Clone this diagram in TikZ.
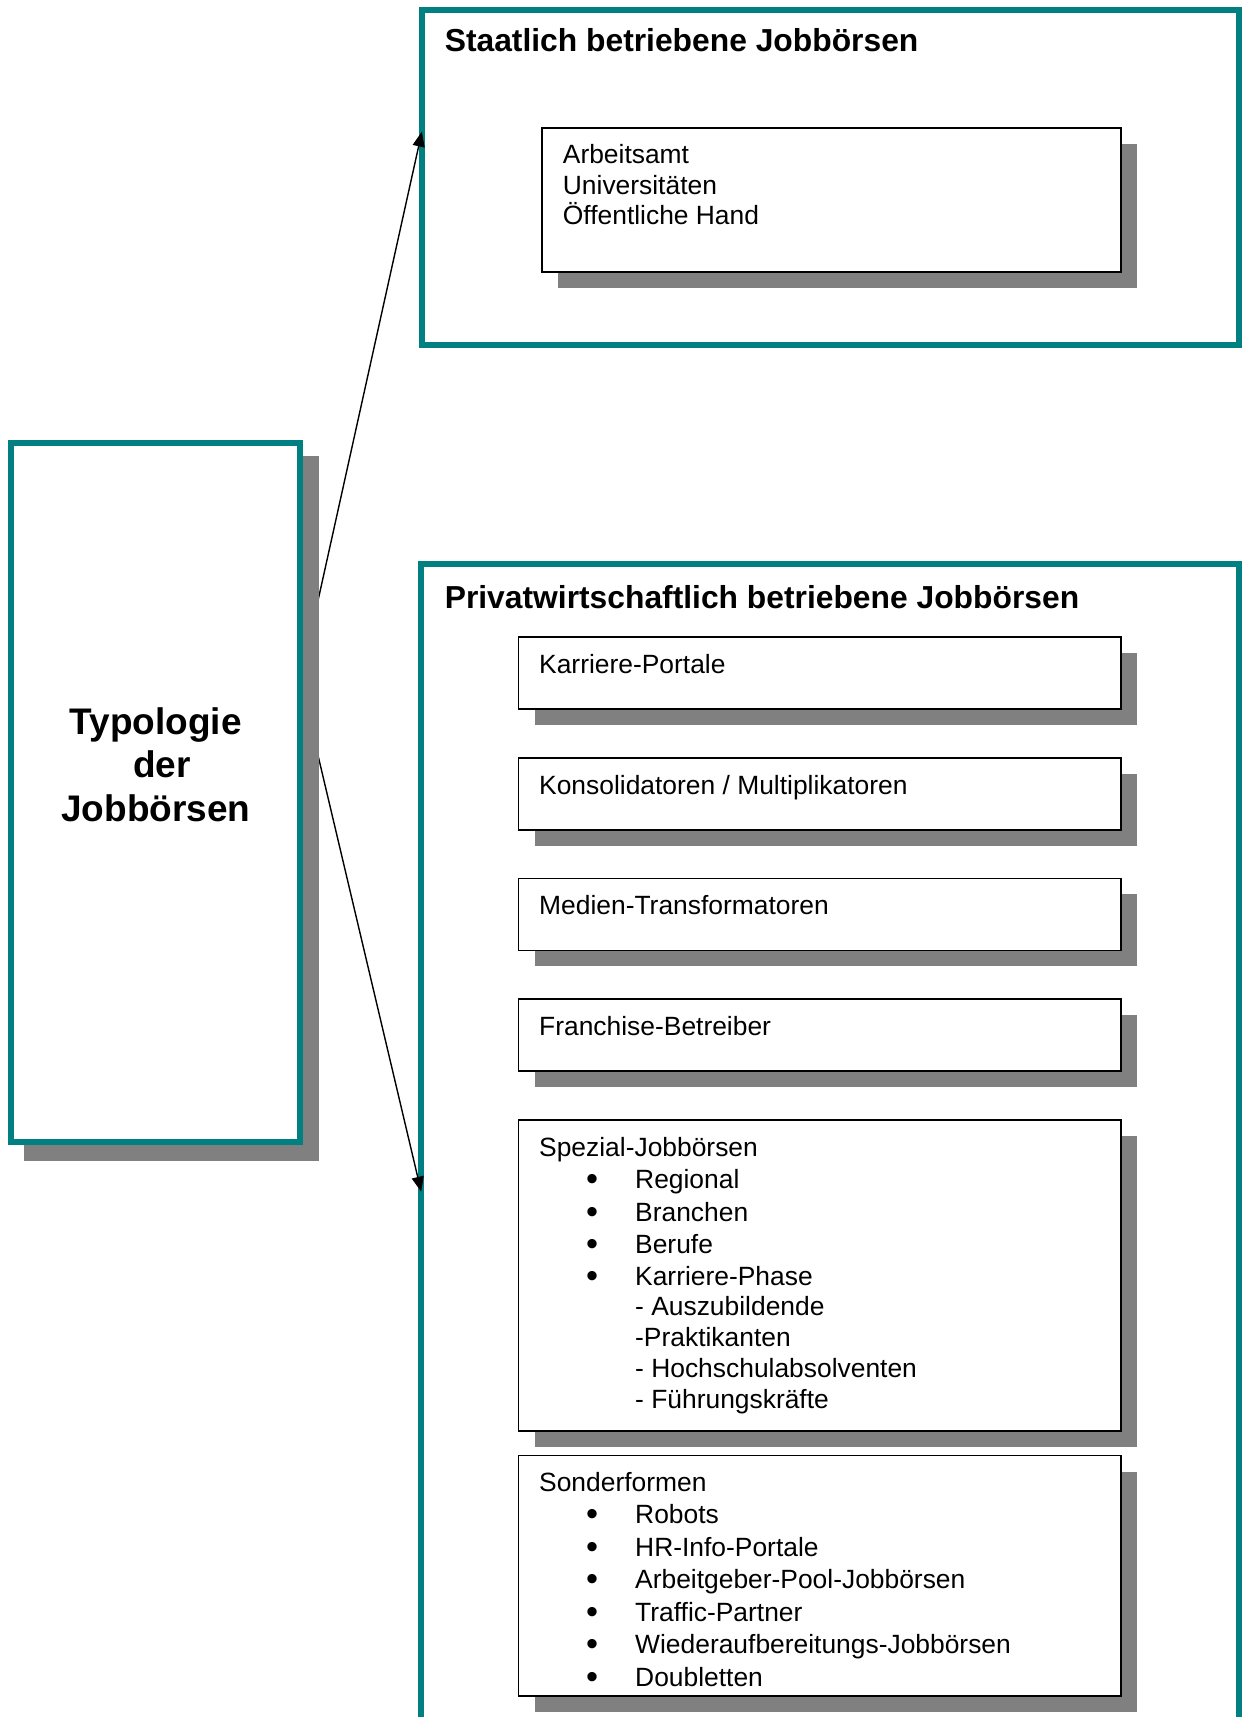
\documentclass[tikz,border=0pt]{standalone}
\usepackage{fontspec}
\setmainfont{Liberation Sans}
\usepackage{tikz}
\usetikzlibrary{calc,shadows,backgrounds,arrows.meta}
\definecolor{frame}{HTML}{008080}
\definecolor{shade}{HTML}{808080}
\newcommand{\bulletline}[1]{\makebox[96pt][l]{\hspace*{47pt}\raisebox{-2pt}{\scalebox{1.3}{\textbullet}}}#1}
\newcommand{\subline}[1]{\hspace*{96pt}#1}
\tikzset{
  panel/.style={draw=frame, line width=6pt, fill=white, inner sep=0pt, outer sep=0pt},
  raised/.style={general shadow={fill=shade, draw=shade, line width=6pt, shadow xshift=16pt, shadow yshift=-16pt}},
  card/.style={draw=black, line width=1.8pt, fill=white, inner sep=0pt, outer sep=0pt,
    general shadow={fill=shade, shadow xshift=16pt, shadow yshift=-16pt}},
  link/.style={-{Triangle[length=15pt,width=12pt]}, line width=1.4pt},
  head/.style={anchor=base west, inner sep=0pt, font=\fontsize{31.8}{37}\selectfont\bfseries},
  bighead/.style={anchor=north, inner sep=0pt, align=center, font=\fontsize{37}{43.5}\selectfont\bfseries,
    execute at begin node=\strut},
  body/.style={anchor=north west, inner sep=0pt, align=left, font=\fontsize{26.4}{30.5}\selectfont,
    execute at begin node=\strut}
}

\begin{document}
\begin{tikzpicture}[x=1pt,y=-1pt]
  \useasboundingbox (0,0) rectangle (1242,1717);

  \node[panel, raised, minimum width=289pt, minimum height=699pt] (typ) at (155.8,792) {};
  \node[bighead] (typhead) at ($(typ.north)+(0,264.5)$) {Typologie\\\hspace*{12pt}der\\Jobbörsen};

  \begin{pgfonlayer}{background}
    \fill[white] (0,0) rectangle (1242,1717);
    \node[panel, minimum width=817pt, minimum height=335pt] (staat) at (830.4,177.4) {};
    \node[panel, minimum width=818pt, minimum height=1176pt] (privat) at (830.2,1152.4) {};
    \coordinate (split) at ($(typ.north east)+(0,238)$);
    \draw[link] (split) -- ($(staat.north west)+(0,121.7)$);
    \draw[link] (split) -- ($(privat.north west)+(0,627.3)$);
  \end{pgfonlayer}

  \node[head] (staathead) at ($(staat.north west)+(22.7,41.1)$) {Staatlich betriebene Jobbörsen};
  \node[head] (privhead) at ($(privat.north west)+(23.4,43.6)$) {Privatwirtschaftlich betriebene Jobbörsen};

  \node[card, minimum width=579pt, minimum height=144pt] (amt) at (831.5,199.9) {};
  \node[body] (amttxt) at ($(amt.north west)+(20.7,16.3)$) {Arbeitsamt\\Universitäten\\Öffentliche Hand};

  \node[card, minimum width=602.5pt, minimum height=72pt] (karriere) at (819.75,673) {};
  \node[body] (karrieretxt) at ($(karriere.north west)+(20.5,15)$) {Karriere-Portale};

  \node[card, minimum width=602.5pt, minimum height=72pt] (konsol) at (819.75,793.7) {};
  \node[body] (konsoltxt) at ($(konsol.north west)+(20.5,15)$) {Konsolidatoren / Multiplikatoren};

  \node[card, minimum width=602.5pt, minimum height=72pt] (medien) at (819.75,914.4) {};
  \node[body] (medientxt) at ($(medien.north west)+(20.5,15)$) {Medien-Transformatoren};

  \node[card, minimum width=602.5pt, minimum height=72pt] (franchise) at (819.75,1034.8) {};
  \node[body] (franchisetxt) at ($(franchise.north west)+(20.5,15)$) {Franchise-Betreiber};

  \node[card, minimum width=602.5pt, minimum height=311.4pt] (spezial) at (819.75,1275.5) {};
  \node[body] (spezialtxt) at ($(spezial.north west)+(20.5,17)$) {Spezial-Jobbörsen\\[2pt]
    \bulletline{Regional}\\[2pt]
    \bulletline{Branchen}\\[2pt]
    \bulletline{Berufe}\\[1pt]
    \bulletline{Karriere-Phase}\\
    \subline{- Auszubildende}\\
    \subline{-Praktikanten}\\[1pt]
    \subline{- Hochschulabsolventen}\\
    \subline{- Führungskräfte}};

  \node[card, minimum width=602.5pt, minimum height=240.7pt] (sonder) at (819.75,1575.85) {};
  \node[body] (sondertxt) at ($(sonder.north west)+(20.5,16.2)$) {Sonderformen\\[2pt]
    \bulletline{Robots}\\[2pt]
    \bulletline{HR-Info-Portale}\\[2pt]
    \bulletline{Arbeitgeber-Pool-Jobbörsen}\\[2pt]
    \bulletline{Traffic-Partner}\\[2pt]
    \bulletline{Wiederaufbereitungs-Jobbörsen}\\[2pt]
    \bulletline{Doubletten}};
\end{tikzpicture}
\end{document}
